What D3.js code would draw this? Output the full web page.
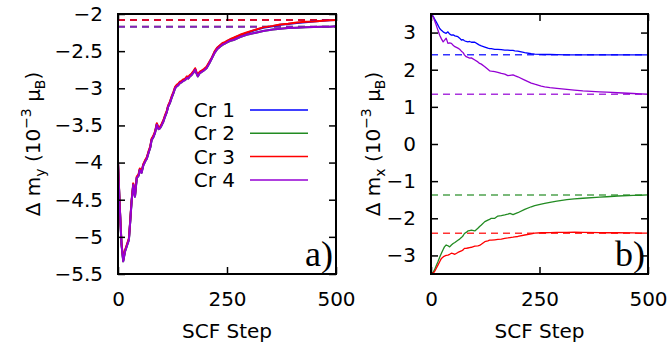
<!DOCTYPE html>
<html>
<head>
<meta charset="utf-8">
<script src="https://cdn.jsdelivr.net/npm/d3@7/dist/d3.min.js"></script>
<style>
body{margin:0;background:#fff;}
text{font-family:"DejaVu Sans",sans-serif;fill:#000;}
</style>
</head>
<body>
<svg id="chart" width="672" height="350"></svg>
<script>
(function(){
"use strict";

// panel a) : delta m_y
var stepsA = [0,4,8,12,16,20,25,28,31,35,39,43,47,50,54,58,62,66,70,74,
  77,81,85,89,93,96,100,104,108,112,115,119,123,127,131,135,138,142,146,150,
  154,158,161,165,169,173,177,180,183,187,192,197,203,209,215,222,228,234,240,245,
  251,257,265,280,295,310,333,355,372,390,410,430,448,470,486,500];
var cr1A = [-3.99,-4.59,-5.09,-5.32,-5.19,-5.12,-5.03,-4.79,-4.53,-4.29,
  -4.45,-4.20,-4.17,-4.09,-4.13,-4.03,-3.98,-3.94,-3.86,-3.79,
  -3.69,-3.65,-3.59,-3.48,-3.54,-3.53,-3.49,-3.44,-3.37,-3.31,
  -3.24,-3.19,-3.12,-3.06,-2.99,-2.96,-2.95,-2.92,-2.91,-2.89,
  -2.88,-2.85,-2.86,-2.83,-2.81,-2.78,-2.74,-2.79,-2.83,-2.79,
  -2.77,-2.75,-2.72,-2.66,-2.595,-2.505,-2.455,-2.425,-2.395,-2.385,
  -2.365,-2.345,-2.325,-2.285,-2.255,-2.225,-2.185,-2.165,-2.145,-2.135,
  -2.12,-2.11,-2.10,-2.09,-2.085,-2.08];
var cr2A = [-4.00,-4.60,-5.10,-5.33,-5.20,-5.13,-5.04,-4.80,-4.54,-4.30,
  -4.46,-4.21,-4.18,-4.10,-4.14,-4.04,-3.99,-3.95,-3.87,-3.80,
  -3.70,-3.66,-3.60,-3.49,-3.55,-3.54,-3.50,-3.45,-3.38,-3.32,
  -3.25,-3.20,-3.13,-3.07,-3.00,-2.97,-2.96,-2.93,-2.92,-2.90,
  -2.89,-2.86,-2.87,-2.84,-2.82,-2.79,-2.75,-2.80,-2.84,-2.80,
  -2.78,-2.76,-2.73,-2.67,-2.60,-2.52,-2.47,-2.44,-2.415,-2.40,
  -2.38,-2.365,-2.35,-2.31,-2.28,-2.26,-2.23,-2.21,-2.20,-2.19,
  -2.185,-2.18,-2.175,-2.17,-2.17,-2.165];
var cr3A = [-3.98,-4.58,-5.08,-5.31,-5.18,-5.11,-5.02,-4.78,-4.52,-4.28,
  -4.44,-4.19,-4.16,-4.08,-4.12,-4.02,-3.97,-3.93,-3.85,-3.78,
  -3.68,-3.64,-3.58,-3.47,-3.53,-3.52,-3.48,-3.43,-3.36,-3.30,
  -3.23,-3.18,-3.11,-3.05,-2.98,-2.95,-2.94,-2.91,-2.90,-2.88,
  -2.87,-2.84,-2.85,-2.82,-2.80,-2.77,-2.73,-2.78,-2.82,-2.78,
  -2.76,-2.74,-2.71,-2.65,-2.59,-2.50,-2.45,-2.42,-2.39,-2.38,
  -2.36,-2.34,-2.32,-2.28,-2.25,-2.22,-2.18,-2.16,-2.14,-2.13,
  -2.115,-2.105,-2.10,-2.09,-2.085,-2.08];
var cr4A = [-4.00,-4.60,-5.10,-5.33,-5.20,-5.13,-5.04,-4.80,-4.54,-4.30,
  -4.46,-4.21,-4.18,-4.10,-4.14,-4.04,-3.99,-3.95,-3.87,-3.80,
  -3.70,-3.66,-3.60,-3.49,-3.55,-3.54,-3.50,-3.45,-3.38,-3.32,
  -3.25,-3.20,-3.13,-3.07,-3.00,-2.97,-2.96,-2.93,-2.92,-2.90,
  -2.89,-2.86,-2.87,-2.84,-2.82,-2.79,-2.75,-2.80,-2.84,-2.80,
  -2.78,-2.76,-2.73,-2.67,-2.60,-2.52,-2.47,-2.44,-2.41,-2.40,
  -2.38,-2.36,-2.35,-2.31,-2.28,-2.26,-2.23,-2.21,-2.20,-2.19,
  -2.185,-2.18,-2.175,-2.17,-2.17,-2.165];
var refA = [-2.08,-2.17,-2.08,-2.17];

// panel b) : delta m_x
var stepsB = [0,5,8,12,16,20,24,28,31,35,39,43,47,51,55,62,66,70,74,77,
  81,85,89,93,101,108,112,116,124,131,135,139,147,154,162,170,177,182,189,193,
  200,216,231,239,254,262,274,290,313,330,350,389,405,430,466,482,500];
var cr1B = [3.5,3.44,3.37,3.29,3.20,3.11,3.06,3.02,3.00,2.98,3.02,2.96,2.93,2.94,2.91,2.89,2.85,2.80,2.81,2.78,
  2.76,2.75,2.76,2.74,2.74,2.69,2.66,2.64,2.61,2.58,2.57,2.57,2.55,2.55,2.54,2.53,2.53,2.52,2.52,2.51,
  2.50,2.46,2.43,2.42,2.415,2.41,2.41,2.405,2.40,2.40,2.40,2.40,2.40,2.40,2.40,2.40,2.40];
var cr2B = [-3.5,-3.45,-3.39,-3.28,-3.17,-3.05,-2.94,-2.84,-2.77,-2.72,-2.74,-2.77,-2.72,-2.68,-2.65,-2.59,-2.56,-2.52,-2.47,-2.41,
  -2.38,-2.34,-2.33,-2.32,-2.34,-2.27,-2.22,-2.18,-2.09,-2.05,-2.03,-2.00,-2.00,-1.94,-1.93,-1.91,-1.89,-1.87,-1.90,-1.88,
  -1.85,-1.76,-1.69,-1.66,-1.62,-1.60,-1.57,-1.54,-1.50,-1.48,-1.46,-1.43,-1.42,-1.40,-1.385,-1.38,-1.37];
var cr3B = [-3.5,-3.47,-3.44,-3.35,-3.26,-3.17,-3.08,-3.04,-3.02,-3.00,-2.99,-2.97,-2.94,-2.95,-2.97,-2.92,-2.90,-2.88,-2.85,-2.81,
  -2.81,-2.80,-2.79,-2.78,-2.75,-2.74,-2.73,-2.70,-2.63,-2.61,-2.59,-2.59,-2.58,-2.57,-2.56,-2.54,-2.53,-2.52,-2.51,-2.50,
  -2.49,-2.45,-2.42,-2.40,-2.39,-2.39,-2.385,-2.38,-2.38,-2.375,-2.38,-2.385,-2.39,-2.39,-2.395,-2.40,-2.40];
var cr4B = [3.5,3.42,3.33,3.20,3.06,2.93,2.83,2.75,2.79,2.85,2.71,2.72,2.71,2.66,2.62,2.58,2.55,2.50,2.46,2.40,
  2.35,2.33,2.31,2.32,2.26,2.21,2.17,2.15,2.08,2.01,1.97,1.96,1.95,1.93,1.90,1.88,1.84,1.85,1.86,1.84,
  1.81,1.72,1.64,1.61,1.56,1.54,1.52,1.50,1.47,1.45,1.43,1.405,1.395,1.38,1.36,1.35,1.34];
var refB = [2.4,-1.37,-2.4,1.34];

var names = ["Cr 1","Cr 2","Cr 3","Cr 4"];
var colors = ["#0000ff","#228b22","#ff0000","#9400d3"];
var ticksX = [0,250,500];
var ticksAY = [-5.5,-5,-4.5,-4,-3.5,-3,-2.5,-2];
var ticksBY = [-3,-2,-1,0,1,2,3];

var svg = d3.select("#chart");

function panel(opt){
  var x = d3.scaleLinear().domain([0,500]).range([opt.left,opt.right]);
  var y = d3.scaleLinear().domain(opt.ydom).range([274,14]);
  var g = svg.append("g");
  var clip = "clip"+opt.id;
  g.append("clipPath").attr("id",clip).append("rect")
    .attr("x",opt.left).attr("y",14).attr("width",opt.right-opt.left).attr("height",260);

  // reference dashes
  g.append("g").attr("clip-path","url(#"+clip+")")
    .selectAll("line").data(opt.refs).enter().append("line")
    .attr("x1",x(0)).attr("x2",x(500))
    .attr("y1",d=>y(d)).attr("y2",d=>y(d))
    .attr("stroke",(d,i)=>colors[i]).attr("stroke-opacity",0.8)
    .attr("stroke-width",opt.dw).attr("stroke-dasharray","7,5");

  var line = d3.line().x((d,i)=>x(opt.steps[i])).y(d=>y(d));
  g.append("g").attr("clip-path","url(#"+clip+")")
    .selectAll("path").data(opt.series).enter().append("path")
    .attr("d",line).attr("fill","none")
    .attr("stroke",(d,i)=>colors[i]).attr("stroke-width",opt.lw)
    .attr("stroke-linejoin","round");

  // mirrored inward ticks
  var tl = 7;
  g.append("g").attr("transform","translate(0,274)")
    .call(d3.axisBottom(x).tickValues(ticksX).tickSizeInner(-tl).tickSizeOuter(0).tickPadding(18))
    .call(a=>a.select(".domain").remove());
  g.append("g").attr("transform","translate(0,14)")
    .call(d3.axisTop(x).tickValues(ticksX).tickSizeInner(-tl).tickSizeOuter(0).tickFormat(""))
    .call(a=>a.select(".domain").remove());
  g.append("g").attr("transform","translate("+opt.left+",0)")
    .call(d3.axisLeft(y).tickValues(opt.yticks).tickSizeInner(-tl).tickSizeOuter(0).tickPadding(15)
      .tickFormat(d=>String(d).replace("-","\u2212")))
    .call(a=>a.select(".domain").remove());
  g.append("g").attr("transform","translate("+opt.right+",0)")
    .call(d3.axisRight(y).tickValues(opt.yticks).tickSizeInner(-tl).tickSizeOuter(0).tickFormat(""))
    .call(a=>a.select(".domain").remove());
  g.selectAll(".tick line").attr("stroke","#000").attr("stroke-width",1.5);
  g.selectAll(".tick text").style("font-size","20px").style("font-family","DejaVu Sans").attr("fill","#000");

  g.append("rect").attr("x",opt.left).attr("y",14)
    .attr("width",opt.right-opt.left).attr("height",260)
    .attr("fill","none").attr("stroke","#000").attr("stroke-width",2);

  g.append("text").attr("x",(opt.left+opt.right)/2).attr("y",338)
    .attr("text-anchor","middle").style("font-size","20px").text("SCF Step");

  var yl = g.append("text").attr("transform","translate("+opt.ylx+",144) rotate(-90)")
    .attr("text-anchor","middle").style("font-size","20px");
  yl.append("tspan").text("\u0394 m");
  yl.append("tspan").attr("dy",5).style("font-size","14px").text(opt.comp);
  yl.append("tspan").attr("dy",-5).text(" (10");
  yl.append("tspan").attr("dy",-9).style("font-size","14px").text("\u22123");
  yl.append("tspan").attr("dy",9).text(" \u03bc");
  yl.append("tspan").attr("dy",5).style("font-size","14px").text("B");
  yl.append("tspan").attr("dy",-5).text(")");

  g.append("text").attr("x",opt.right-3).attr("y",266).attr("text-anchor","end")
    .style("font-family","Liberation Serif").style("font-size","36px").text(opt.tag);
  return {x:x,y:y,g:g};
}

var pa = panel({id:"a",left:118,right:336,ydom:[-5.5,-2],yticks:ticksAY,steps:stepsA,
  series:[cr1A,cr2A,cr3A,cr4A],refs:refA,lw:2,dw:2,ylx:40,comp:"y",tag:"a)"});
panel({id:"b",left:431,right:648,ydom:[-3.5,3.5],yticks:ticksBY,steps:stepsB,
  series:[cr1B,cr2B,cr3B,cr4B],refs:refB,lw:1.3,dw:1.5,ylx:380,comp:"x",tag:"b)"});

// legend in panel a)
var leg = pa.g.selectAll("g.leg").data(names).enter().append("g").attr("class","leg")
  .attr("transform",(d,i)=>"translate(0,"+(110+i*23.3)+")");
leg.append("text").attr("x",235).attr("dy","0.35em").attr("text-anchor","end")
  .style("font-size","20px").text(d=>d);
leg.append("line").attr("x1",250).attr("x2",308)
  .attr("stroke",(d,i)=>colors[i]).attr("stroke-width",1.5);

})();
</script>
</body>
</html>
